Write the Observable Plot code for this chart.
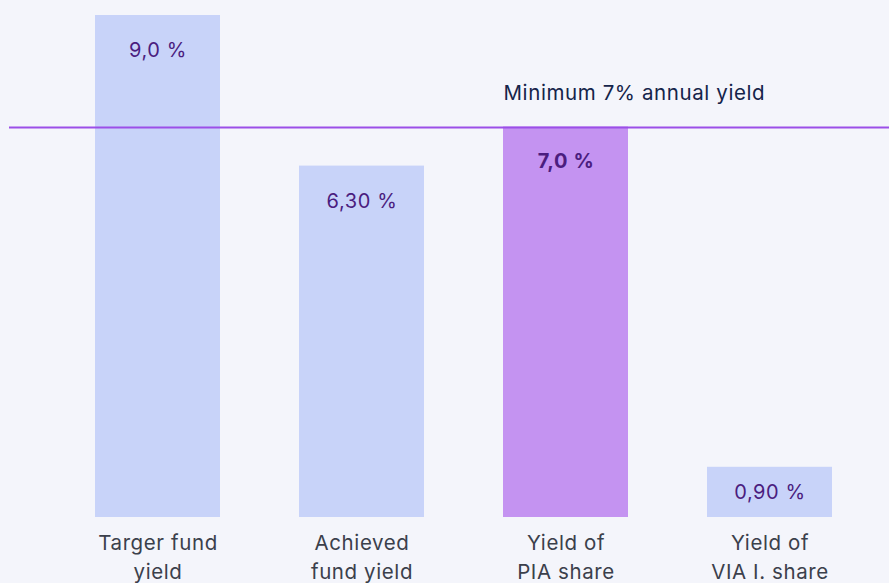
<!DOCTYPE html>
<html><head><meta charset="utf-8">
<script src="https://cdn.jsdelivr.net/npm/d3@7"></script>
<script src="https://cdn.jsdelivr.net/npm/@observablehq/plot@0.6"></script>
<style>
html,body{margin:0;padding:0;background:#f4f5fb;}
#chart{width:889px;height:583px;overflow:hidden;}
</style>
</head><body><div id="chart"></div>
<script>
const categories = ["Targer fund\nyield", "Achieved\nfund yield", "Yield of\nPIA share", "Yield of\nVIA I. share"];
const values = [9.0, 6.3, 7.0, 0.9];
const valueLabels = ["9,0 %", "6,30 %", "7,0 %", "0,90 %"];
const highlighted = [false, false, true, false];
const thresholdValue = 7;
const thresholdLabel = "Minimum 7% annual yield";

const data = categories.map((c, i) => ({cat: c, value: values[i], label: valueLabels[i], hi: highlighted[i]}));
const tall = data.filter(d => d.value >= 2);
const short = data.filter(d => d.value < 2);

const chart = Plot.plot({
  width: 889,
  height: 583,
  marginTop: 15,
  marginBottom: 66,
  marginLeft: 94,
  marginRight: 56.5,
  style: {background: "#f4f5fb", fontFamily: "Inter, Lato, sans-serif", letterSpacing: "0.6px"},
  x: {domain: categories, paddingInner: 0.389, paddingOuter: 0, label: null},
  y: {domain: [0, 9], axis: null},
  marks: [
    Plot.barY(data, {x: "cat", y: "value", fill: d => d.hi ? "#c493f1" : "#c8d3f9"}),
    Plot.ruleY([thresholdValue], {stroke: "#9b4fe8", strokeWidth: 2, dy: 0.5, insetLeft: -85, insetRight: -57}),
    Plot.text(tall.filter(d => !d.hi), {x: "cat", y: "value", text: "label", dy: 35, fontSize: 20,
      fill: "#4b1d7f"}),
    Plot.text(tall.filter(d => d.hi), {x: "cat", y: "value", text: "label", dy: 35, fontSize: 20,
      fill: "#4b1d7f", fontWeight: "bold"}),
    Plot.text(short, {x: "cat", y: d => d.value / 2, text: "label", fontSize: 20,
      fill: "#4b1d7f"}),
    Plot.text([thresholdLabel], {x: () => categories[2], y: () => thresholdValue, text: d => d,
      textAnchor: "start", dx: -62.5, dy: -34, fontSize: 20.5, fill: "#15244a"}),
    Plot.axisX({tickSize: 0, tickPadding: 13, fontSize: 20.5, lineHeight: 1.37, fill: "#3b404b", label: null})
  ]
});
document.getElementById("chart").append(chart);
</script>
</body></html>
